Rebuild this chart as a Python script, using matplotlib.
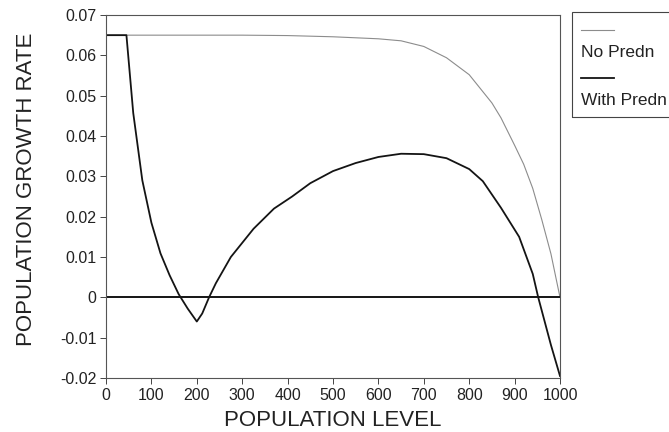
import matplotlib
matplotlib.use("Agg")
import matplotlib.pyplot as plt
from matplotlib.lines import Line2D
from matplotlib.patches import Rectangle

plt.rcParams['font.family'] = ['Liberation Sans', 'DejaVu Sans']

# ---- data ----
pop_no = [0, 100, 200, 300, 400, 500, 600, 650, 700, 750, 800, 850, 870,
          900, 920, 940, 960, 980, 1000]
growth_no = [0.065, 0.065, 0.065, 0.065, 0.0649, 0.0646, 0.0641, 0.0636,
             0.0622, 0.0594, 0.0552, 0.0482, 0.0445, 0.0377, 0.0330, 0.0270,
             0.0192, 0.0108, 0.0]

pop_pred = [0, 45, 60, 80, 100, 120, 140, 160, 180, 200, 212, 227, 242, 275,
            325, 370, 410, 450, 500, 550, 600, 650, 700, 750, 800, 830, 870,
            910, 940, 952, 980, 1000]
growth_pred = [0.065, 0.065, 0.0457, 0.029, 0.0185, 0.0109, 0.0055, 0.0008,
               -0.0028, -0.006, -0.004, 0.0, 0.0035, 0.010, 0.017, 0.022,
               0.025, 0.0283, 0.0313, 0.0333, 0.0348, 0.0356, 0.0355, 0.0345,
               0.0318, 0.0288, 0.0222, 0.0150, 0.0058, 0.0, -0.0118, -0.0195]

zero_x = [0, 1000]
zero_y = [0, 0]

x_ticks = [0, 100, 200, 300, 400, 500, 600, 700, 800, 900, 1000]
y_ticks = [-0.02, -0.01, 0, 0.01, 0.02, 0.03, 0.04, 0.05, 0.06, 0.07]
y_tick_labels = ['-0.02', '-0.01', '0', '0.01', '0.02', '0.03', '0.04',
                 '0.05', '0.06', '0.07']

legend_labels = ['No Predn', 'With Predn']

TXT = '#222222'
GRAY = '#8c8c8c'
BLK = '#141414'

fig = plt.figure(figsize=(6.69, 4.32), dpi=100)
W, H = 669, 432
ax = fig.add_axes([106 / W, 1 - 378 / H, (560 - 106) / W, (378 - 15) / H])

ax.plot(pop_no, growth_no, color=GRAY, lw=0.8)
ax.plot(pop_pred, growth_pred, color=BLK, lw=1.3)
ax.plot(zero_x, zero_y, color=BLK, lw=1.4)

ax.set_xlim(0, 1000)
ax.set_ylim(-0.02, 0.07)
ax.set_xticks(x_ticks)
ax.set_xticklabels([str(t) for t in x_ticks])
ax.set_yticks(y_ticks)
ax.set_yticklabels(y_tick_labels)
ax.tick_params(direction='out', length=4, width=0.7, colors='#444444',
               labelcolor=TXT, labelsize=11.5, pad=3)
for s in ax.spines.values():
    s.set_color('#555555')
    s.set_linewidth(0.8)

fig.text(27 / W, 1 - 189 / H, 'POPULATION GROWTH RATE', rotation=90,
         ha='center', va='center', fontsize=16, color=TXT)
fig.text(333 / W, 1 - 426 / H, 'POPULATION LEVEL', ha='center',
         va='baseline', fontsize=16, color=TXT)

# legend box (manual, sample line above each label)
fig.add_artist(Rectangle((572 / W, 1 - 117 / H), 120 / W, 105 / H,
                         transform=fig.transFigure, fill=False,
                         edgecolor='#444444', lw=0.8, clip_on=False))
fig.add_artist(Line2D([581 / W, 614 / W], [1 - 30 / H, 1 - 30 / H],
                      transform=fig.transFigure, color=GRAY, lw=0.8))
fig.text(581 / W, 1 - 57 / H, legend_labels[0], fontsize=12.5,
         color=TXT, va='baseline', ha='left')
fig.add_artist(Line2D([581 / W, 614 / W], [1 - 78 / H, 1 - 78 / H],
                      transform=fig.transFigure, color=BLK, lw=1.3))
fig.text(581 / W, 1 - 105 / H, legend_labels[1], fontsize=12.5,
         color=TXT, va='baseline', ha='left')

fig.savefig('out.png', dpi=100)
